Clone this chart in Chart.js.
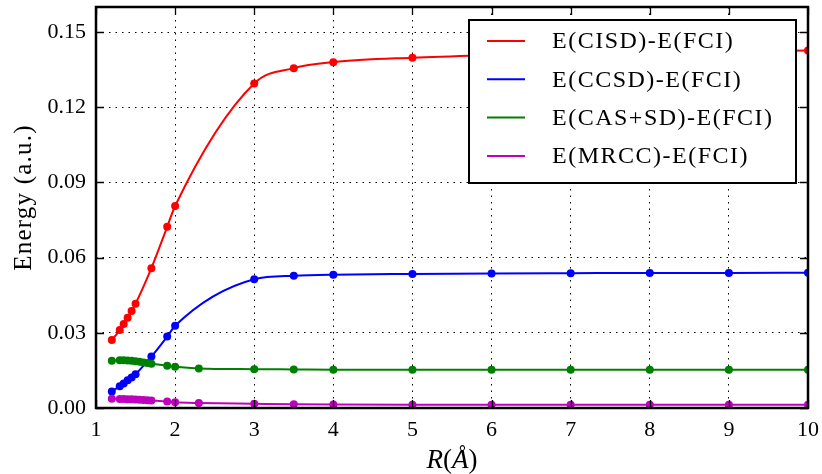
<!DOCTYPE html>
<html>
<head>
<meta charset="utf-8">
<script src="https://cdn.jsdelivr.net/npm/chart.js@4"></script>
<style>
  html, body { margin: 0; padding: 0; background: #fff; }
  #wrap { width: 822px; height: 474px; }
</style>
</head>
<body>
<div id="wrap"><canvas id="myChart" width="822" height="474"></canvas></div>
<script>
// distances R (Angstrom) for each series
const rCISD = [1.2, 1.3, 1.35, 1.4, 1.45, 1.5, 1.7, 1.9, 2.0, 3, 3.5, 4, 5, 6, 7, 8, 9, 10];
const rCCSD = [1.2, 1.3, 1.35, 1.4, 1.45, 1.5, 1.7, 1.9, 2.0, 3, 3.5, 4, 5, 6, 7, 8, 9, 10];
const rMulti = [1.2, 1.3, 1.35, 1.4, 1.45, 1.5, 1.55, 1.6, 1.65, 1.7, 1.9, 2.0, 2.3, 3, 3.5, 4, 5, 6, 7, 8, 9, 10];

// energy differences (a.u.)
const eCISD = [0.0271, 0.0311, 0.0335, 0.0360, 0.0387, 0.0416, 0.0558, 0.0723, 0.0806, 0.1295, 0.1356, 0.1380, 0.1398, 0.1408, 0.1415, 0.1420, 0.1424, 0.1426];
const eCCSD = [0.0066, 0.0087, 0.0098, 0.0111, 0.0122, 0.0135, 0.0205, 0.0285, 0.0328, 0.0514, 0.0528, 0.0532, 0.0535, 0.0537, 0.0538, 0.0539, 0.0539, 0.0540];
const eCASSD = [0.0189, 0.0191, 0.0191, 0.0190, 0.0189, 0.0187, 0.0185, 0.0182, 0.0180, 0.0177, 0.0169, 0.0165, 0.0158, 0.0155, 0.0154, 0.0153, 0.0153, 0.0153, 0.0153, 0.0153, 0.0153, 0.0153];
const eMRCC = [0.0037, 0.0036, 0.0036, 0.0035, 0.0035, 0.0034, 0.0033, 0.0032, 0.0031, 0.0030, 0.0026, 0.0023, 0.0020, 0.0017, 0.0015, 0.0014, 0.0013, 0.0013, 0.0013, 0.0013, 0.0013, 0.0013];

const seriesLabels = ['E(CISD)-E(FCI)', 'E(CCSD)-E(FCI)', 'E(CAS+SD)-E(FCI)', 'E(MRCC)-E(FCI)'];
const seriesColors = ['#ff0000', '#0000ff', '#008000', '#bf00bf'];

const xTicks = [1, 2, 3, 4, 5, 6, 7, 8, 9, 10];
const yTicks = [0, 0.03, 0.06, 0.09, 0.12, 0.15];

const serif = "'Liberation Serif', 'DejaVu Serif', serif";

function pairs(xs, ys) {
    return xs.map((x, i) => ({ x: x, y: ys[i] }));
}

function makeSet(i, xs, ys) {
    return {
        label: seriesLabels[i],
        data: pairs(xs, ys),
        borderColor: seriesColors[i],
        backgroundColor: seriesColors[i],
        borderWidth: 2,
        pointRadius: 4,
        pointBorderWidth: 0,
        cubicInterpolationMode: 'monotone',
        clip: 0,
        order: 4 - i
    };
}

// frame, inward ticks, axis titles and the boxed legend on top of the data
const framePlugin = {
    id: 'frame',
    afterDatasetsDraw(chart) {
        const ctx = chart.ctx;
        const a = chart.chartArea;
        const x = chart.scales.x;
        const y = chart.scales.y;
        ctx.save();
        ctx.strokeStyle = '#000';
        ctx.lineWidth = 1.3;
        ctx.beginPath();
        xTicks.forEach(v => {
            const px = Math.round(x.getPixelForValue(v)) + 0.5;
            ctx.moveTo(px, a.bottom); ctx.lineTo(px, a.bottom - 8);
            ctx.moveTo(px, a.top); ctx.lineTo(px, a.top + 8);
        });
        yTicks.forEach(v => {
            const py = Math.round(y.getPixelForValue(v)) + 0.5;
            ctx.moveTo(a.left, py); ctx.lineTo(a.left + 8, py);
            ctx.moveTo(a.right, py); ctx.lineTo(a.right - 8, py);
        });
        ctx.stroke();
        ctx.lineWidth = 2.5;
        ctx.strokeRect(a.left, a.top, a.right - a.left, a.bottom - a.top);

        // legend box
        const lx = 469, ly = 20, lw = 327, lh = 163;
        ctx.fillStyle = '#fff';
        ctx.fillRect(lx, ly, lw, lh);
        ctx.lineWidth = 2;
        ctx.strokeRect(lx, ly, lw, lh);
        ctx.font = '24px ' + serif;
        ctx.letterSpacing = '1.5px';
        ctx.textBaseline = 'middle';
        ctx.textAlign = 'left';
        seriesLabels.forEach((lab, i) => {
            const ry = 41 + i * 38.3;
            ctx.strokeStyle = seriesColors[i];
            ctx.lineWidth = 2;
            ctx.beginPath();
            ctx.moveTo(487, ry); ctx.lineTo(525, ry);
            ctx.stroke();
            ctx.fillStyle = '#000';
            ctx.fillText(lab, 552, ry + 1);
        });

        // y title
        ctx.save();
        ctx.translate(31, (a.top + a.bottom) / 2 - 10);
        ctx.rotate(-Math.PI / 2);
        ctx.font = '25px ' + serif;
        ctx.letterSpacing = '1.2px';
        ctx.textAlign = 'center';
        ctx.textBaseline = 'alphabetic';
        ctx.fillText('Energy (a.u.)', 0, 0);
        ctx.restore();

        // x title: R(Å) with italic symbols
        const parts = [['R', true], ['(', false], ['Å', true], [')', false]];
        ctx.letterSpacing = '0px';
        ctx.textAlign = 'left';
        ctx.textBaseline = 'alphabetic';
        const fontFor = it => (it ? 'italic ' : '') + '27px ' + serif;
        let total = 0;
        parts.forEach(p => { ctx.font = fontFor(p[1]); total += ctx.measureText(p[0]).width; });
        let cx = (a.left + a.right) / 2 - total / 2;
        parts.forEach(p => {
            ctx.font = fontFor(p[1]);
            ctx.fillText(p[0], cx, 468);
            cx += ctx.measureText(p[0]).width;
        });
        ctx.restore();
    }
};

const chartEl = document.querySelector('#myChart');
const myChart = new Chart(chartEl, {
    type: 'line',
    data: {
        datasets: [
            makeSet(0, rCISD, eCISD),
            makeSet(1, rCCSD, eCCSD),
            makeSet(2, rMulti, eCASSD),
            makeSet(3, rMulti, eMRCC)
        ]
    },
    options: {
        responsive: false,
        animation: false,
        events: [],
        layout: { padding: { top: 7, right: 14, left: 0, bottom: 0 } },
        plugins: {
            legend: { display: false },
            tooltip: { enabled: false }
        },
        scales: {
            x: {
                type: 'linear',
                min: 1,
                max: 10,
                afterBuildTicks: s => { s.ticks = xTicks.map(v => ({ value: v })); },
                afterFit: s => { s.height = 66; s.paddingLeft = 0; s.paddingRight = 0; },
                ticks: {
                    color: '#000',
                    padding: 9,
                    font: { family: serif, size: 22 },
                    callback: v => String(v)
                },
                grid: { color: '#000', lineWidth: 1, drawTicks: false, borderDash: [1.5, 5] },
                border: { display: false, dash: [1.5, 5] }
            },
            y: {
                type: 'linear',
                min: 0,
                max: 0.16,
                afterBuildTicks: s => { s.ticks = yTicks.map(v => ({ value: v })); },
                afterFit: s => { s.width = 96; s.paddingTop = 0; s.paddingBottom = 0; },
                ticks: {
                    color: '#000',
                    padding: 10,
                    font: { family: serif, size: 22 },
                    callback: v => v.toFixed(2)
                },
                grid: { color: '#000', lineWidth: 1, drawTicks: false, borderDash: [1.5, 5] },
                border: { display: false, dash: [1.5, 5] }
            }
        }
    },
    plugins: [framePlugin]
});
</script>
</body>
</html>
